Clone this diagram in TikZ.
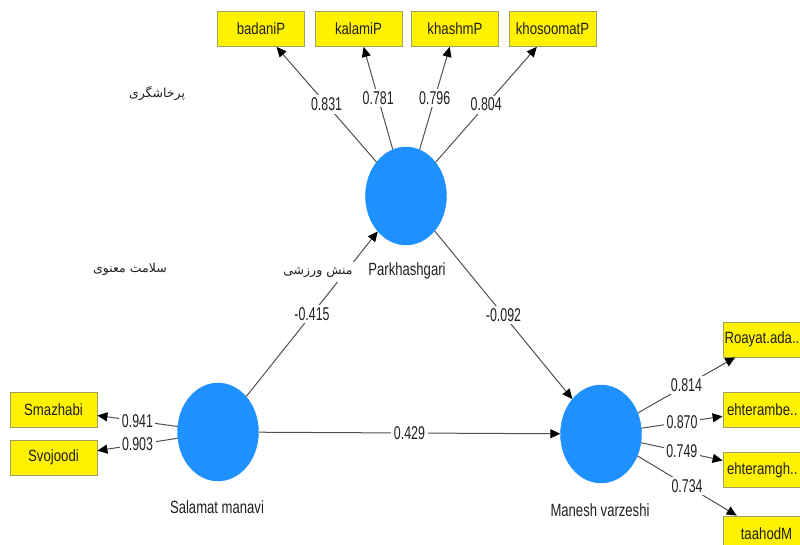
\documentclass[tikz,border=0pt]{standalone}
\usepackage{fontspec}
\setmainfont{Liberation Sans}
\newfontfamily\lblfont[FakeStretch=0.67]{Liberation Sans}
\newfontfamily\boxfont[FakeStretch=0.81]{Liberation Sans}
\newfontfamily\namefont[FakeStretch=0.74]{Liberation Sans}
\newfontfamily\farsi[Script=Arabic]{DejaVu Sans}
\TeXXeTstate=1
\usetikzlibrary{arrows.meta,shapes.geometric}
\definecolor{lvblue}{HTML}{1E90FF}
\definecolor{boxborder}{HTML}{A0A060}
\definecolor{linegray}{HTML}{505050}
\definecolor{txt}{HTML}{202020}
\begin{document}
\begin{tikzpicture}[x=1pt,y=-1pt,
  lv/.style={ellipse, fill=lvblue, draw=lvblue, minimum width=81pt, minimum height=98pt, inner sep=0pt},
  ind/.style={rectangle, fill=yellow, draw=boxborder, line width=0.8pt, minimum width=87pt, minimum height=35pt, inner sep=0pt, text=txt, font=\boxfont\fontsize{16.3}{18}\selectfont},
  indl/.style={ind, text width=79pt, align=left},
  conn/.style={draw=linegray, line width=1pt, -{Triangle[length=10pt,width=9pt,color=black]}},
  wt/.style={fill=white, inner sep=2.5pt, midway, text=txt, font=\lblfont\fontsize{18.5}{20}\selectfont},
  lvname/.style={inner sep=1pt, text=txt, font=\namefont\fontsize{17.7}{19}\selectfont},
  fa/.style={inner sep=2pt, text=txt, font=\farsi\fontsize{12.5}{15}\selectfont}]
\useasboundingbox (0,0) rectangle (800,545);
\clip (0,0) rectangle (800,545);

% latent variables
\node[lv] (P) at (406,196) {};
\node[lv] (S) at (218,432) {};
\node[lv] (M) at (601,434) {};

% indicators
\node[ind] (badaniP) at (261,29) {badaniP};
\node[ind] (kalamiP) at (358.5,29) {kalamiP};
\node[ind] (khashmP) at (455,29) {khashmP};
\node[ind] (khosoomatP) at (552.5,29) {khosoomatP};
\node[ind] (Smazhabi) at (53.5,409.5) {Smazhabi};
\node[ind] (Svojoodi) at (53.5,457.5) {Svojoodi};
\node[indl, text width=84pt] (Roayat) at (766.5,339.5) {Roayat.ada..};
\node[indl] (ehterambe) at (766.5,410) {ehterambe..};
\node[indl] (ehteramgh) at (766.5,470) {ehteramgh..};
\node[ind] (taahodM) at (766.5,533.5) {taahodM};

% connectors
\draw[conn] (P) -- node[wt] {0.831} (badaniP);
\draw[conn] (P) -- node[wt] {0.781} (kalamiP);
\draw[conn] (P) -- node[wt] {0.796} (khashmP);
\draw[conn] (P) -- node[wt] {0.804} (khosoomatP);
\draw[conn] (S) -- node[wt] {-0.415} (P);
\draw[conn] (P) -- node[wt] {-0.092} (M);
\draw[conn] (S) -- node[wt] {0.429} (M);
\draw[conn] (S) -- node[wt] {0.941} (Smazhabi);
\draw[conn] (S) -- node[wt] {0.903} (Svojoodi);
\draw[conn] (M) -- node[wt] {0.814} (Roayat);
\draw[conn] (M) -- node[wt] {0.870} (ehterambe);
\draw[conn] (M) -- node[wt] {0.749} (ehteramgh);
\draw[conn] (M) -- node[wt] {0.734} (taahodM);

% names
\node[lvname] (Pname) at (407,271) {Parkhashgari};
\node[lvname] (Sname) at (217,507) {Salamat manavi};
\node[lvname] (Mname) at (600,510) {Manesh varzeshi};

% Persian texts
\node[fa] (pkfa) at (157,93) {\beginR پرخاشگری\endR};
\node[fa] (smfa) at (130,269) {\beginR سلامت معنوی\endR};
\node[fa, fill=white, inner sep=5pt] (mvfa) at (318,272) {\beginR منش ورزشی\endR};
\end{tikzpicture}
\end{document}
